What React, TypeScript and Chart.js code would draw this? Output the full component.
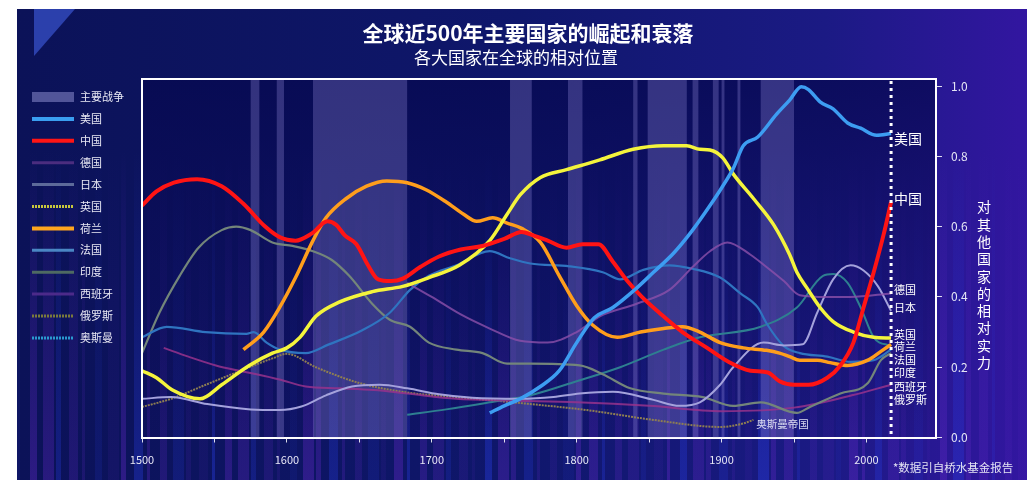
import React, { useEffect, useRef } from "react";
import { Chart, registerables } from "chart.js";

Chart.register(...registerables);

const FONT = '"Noto Sans CJK SC", "Noto Sans", sans-serif';

const TITLE = "全球近500年主要国家的崛起和衰落";
const SUBTITLE = "各大国家在全球的相对位置";
const Y_TITLE = "对其他国家的相对实力";
const NOTE = "*数据引自桥水基金报告";
const OTTOMAN_NOTE = "奥斯曼帝国";
const WAR_LABEL = "主要战争";

const X_TICKS = [1500, 1550, 1600, 1650, 1700, 1750, 1800, 1850, 1900, 1950, 2000];
const Y_TICKS = [0, 0.2, 0.4, 0.6, 0.8, 1.0];
const LATEST_YEAR = 2017;
const OTTOMAN_NOTE_AT: [number, number] = [1942, 0.038];

const WARS: [number, number][] = [
  [1575, 1581], [1593, 1598], [1618, 1683], [1754, 1769], [1794, 1804],
  [1839, 1842], [1849, 1876], [1880, 1884], [1894, 1898], [1900, 1902],
  [1911, 1913], [1927, 1950],
];

const US: [number, number][] = [
  [1740, 0.07], [1750, 0.09], [1761, 0.11], [1775, 0.145], [1788, 0.19], [1800, 0.27],
  [1812, 0.34], [1825, 0.37], [1840, 0.42], [1853, 0.47], [1867, 0.525], [1880, 0.59],
  [1892, 0.66], [1900, 0.71], [1908, 0.765], [1915, 0.83], [1925, 0.855], [1938, 0.92],
  [1947, 0.96], [1955, 0.998], [1960, 0.99], [1968, 0.955], [1977, 0.935], [1987, 0.895],
  [1996, 0.88], [2007, 0.86], [2017, 0.865],
];

const CHINA: [number, number][] = [
  [1500, 0.66], [1510, 0.7], [1522, 0.725], [1538, 0.735], [1555, 0.715], [1570, 0.665],
  [1585, 0.6], [1595, 0.57], [1606, 0.56], [1617, 0.58], [1628, 0.615], [1634, 0.605],
  [1640, 0.575], [1648, 0.55], [1656, 0.49], [1663, 0.45], [1672, 0.445], [1680, 0.452],
  [1692, 0.485], [1705, 0.515], [1720, 0.535], [1735, 0.545], [1750, 0.565], [1762, 0.585],
  [1770, 0.575], [1780, 0.56], [1793, 0.54], [1804, 0.55], [1815, 0.55], [1825, 0.5],
  [1835, 0.445], [1845, 0.4], [1857, 0.355], [1873, 0.3], [1890, 0.255], [1905, 0.215],
  [1920, 0.19], [1932, 0.185], [1940, 0.16], [1950, 0.15], [1960, 0.15], [1973, 0.17],
  [1982, 0.205], [1991, 0.27], [1998, 0.37], [2005, 0.47], [2012, 0.58], [2017, 0.67],
];

const UK: [number, number][] = [
  [1500, 0.19], [1510, 0.17], [1521, 0.135], [1540, 0.11], [1555, 0.15], [1574, 0.205],
  [1590, 0.24], [1600, 0.255], [1609, 0.285], [1620, 0.345], [1636, 0.385], [1659, 0.415],
  [1680, 0.43], [1698, 0.455], [1719, 0.49], [1740, 0.56], [1752, 0.635], [1761, 0.69],
  [1775, 0.74], [1793, 0.762], [1816, 0.79], [1839, 0.82], [1860, 0.83], [1876, 0.83],
  [1885, 0.82], [1892, 0.818], [1901, 0.795], [1908, 0.75], [1922, 0.68], [1936, 0.605],
  [1947, 0.52], [1952, 0.47], [1959, 0.425], [1968, 0.37], [1977, 0.33], [1991, 0.3],
  [2005, 0.285], [2017, 0.283],
];

const NETHERLANDS: [number, number][] = [
  [1570, 0.25], [1584, 0.3], [1595, 0.37], [1606, 0.455], [1618, 0.56], [1627, 0.625],
  [1641, 0.68], [1655, 0.715], [1669, 0.73], [1683, 0.725], [1696, 0.705], [1710, 0.67],
  [1722, 0.635], [1731, 0.615], [1742, 0.625], [1752, 0.61], [1762, 0.595], [1775, 0.555],
  [1788, 0.46], [1800, 0.375], [1811, 0.32], [1828, 0.285], [1844, 0.3], [1860, 0.31],
  [1873, 0.315], [1885, 0.3], [1899, 0.27], [1915, 0.255], [1931, 0.248], [1940, 0.24],
  [1947, 0.23], [1954, 0.22], [1966, 0.22], [1975, 0.213], [1987, 0.205], [2001, 0.22],
  [2010, 0.245], [2017, 0.265],
];

const FRANCE: [number, number][] = [
  [1500, 0.285], [1517, 0.315], [1544, 0.3], [1572, 0.295], [1577, 0.3], [1586, 0.27],
  [1595, 0.25], [1613, 0.24], [1629, 0.265], [1652, 0.305], [1671, 0.355], [1685, 0.42],
  [1698, 0.46], [1717, 0.49], [1740, 0.53], [1754, 0.51], [1768, 0.495], [1795, 0.487],
  [1818, 0.47], [1830, 0.45], [1846, 0.477], [1864, 0.49], [1880, 0.48], [1899, 0.455],
  [1913, 0.41], [1925, 0.37], [1931, 0.325], [1943, 0.26], [1954, 0.24], [1973, 0.23],
  [1989, 0.215], [2005, 0.22], [2017, 0.25],
];

const INDIA: [number, number][] = [
  [1500, 0.24], [1512, 0.355], [1526, 0.46], [1539, 0.54], [1555, 0.59], [1565, 0.6],
  [1575, 0.59], [1590, 0.555], [1604, 0.545], [1618, 0.53], [1631, 0.505], [1643, 0.46],
  [1659, 0.38], [1671, 0.335], [1685, 0.315], [1698, 0.27], [1717, 0.25], [1735, 0.24],
  [1752, 0.21], [1768, 0.21], [1802, 0.205], [1818, 0.18], [1837, 0.14], [1860, 0.125],
  [1887, 0.115], [1908, 0.09], [1927, 0.1], [1952, 0.07], [1961, 0.087], [1982, 0.125],
  [2001, 0.155], [2010, 0.22], [2017, 0.24],
];

const JAPAN: [number, number][] = [
  [1500, 0.11], [1520, 0.115], [1545, 0.095], [1575, 0.08], [1595, 0.078], [1610, 0.088],
  [1627, 0.12], [1645, 0.145], [1664, 0.15], [1683, 0.14], [1705, 0.123], [1728, 0.113],
  [1761, 0.11], [1784, 0.115], [1802, 0.125], [1825, 0.13], [1853, 0.107], [1871, 0.09],
  [1885, 0.1], [1899, 0.15], [1908, 0.2], [1929, 0.27], [1943, 0.262], [1956, 0.265],
  [1966, 0.355], [1977, 0.45], [1989, 0.49], [1998, 0.475], [2008, 0.43], [2017, 0.36],
];

const GERMANY: [number, number][] = [
  [1683, 0.44], [1700, 0.4], [1720, 0.35], [1740, 0.31], [1761, 0.275], [1780, 0.27],
  [1800, 0.3], [1816, 0.345], [1841, 0.38], [1864, 0.42], [1880, 0.485], [1892, 0.53],
  [1904, 0.555], [1920, 0.52], [1931, 0.485], [1943, 0.445], [1954, 0.405], [1973, 0.4],
  [1989, 0.4], [2017, 0.41],
];

const SPAIN: [number, number][] = [
  [1515, 0.255], [1532, 0.23], [1551, 0.205], [1567, 0.19], [1579, 0.18], [1595, 0.165],
  [1613, 0.145], [1636, 0.14], [1660, 0.135], [1683, 0.125], [1717, 0.11], [1752, 0.105],
  [1800, 0.1], [1850, 0.09], [1900, 0.075], [1950, 0.085], [1990, 0.12], [2017, 0.15],
];

const RUSSIA: [number, number][] = [
  [1683, 0.065], [1710, 0.08], [1740, 0.1], [1768, 0.12], [1800, 0.16], [1830, 0.2],
  [1860, 0.25], [1885, 0.285], [1927, 0.315], [1952, 0.37], [1970, 0.46], [1977, 0.465],
  [1987, 0.44], [1996, 0.37], [2005, 0.285], [2017, 0.26],
];

const OTTOMAN: [number, number][] = [
  [1500, 0.087], [1520, 0.11], [1544, 0.15], [1574, 0.2], [1590, 0.225], [1600, 0.238],
  [1620, 0.2], [1650, 0.155], [1683, 0.128], [1717, 0.115], [1761, 0.098], [1807, 0.078],
  [1853, 0.05], [1899, 0.03], [1915, 0.04], [1922, 0.05],
];

const END_LABEL_VALUES = [0.85, 0.68, 0.419, 0.369, 0.292, 0.258, 0.221, 0.184, 0.144, 0.107];
const END_LABEL_NAMES = ["美国", "中国", "德国", "日本", "英国", "荷兰", "法国", "印度", "西班牙", "俄罗斯"];

type Style = {
  name: string;
  data: [number, number][];
  color: string;
  width: number;
  dash: number[];
  legendColor: string;
  legendWidth: number;
  legendDash: number[];
  order: number;
};

const SERIES: Style[] = [
  { name: "美国", data: US, color: "#3d9df2", width: 3.5, dash: [], legendColor: "#3a9ef0", legendWidth: 4, legendDash: [], order: 0 },
  { name: "中国", data: CHINA, color: "#ff1414", width: 4, dash: [], legendColor: "#ff1515", legendWidth: 4, legendDash: [], order: 0 },
  { name: "德国", data: GERMANY, color: "rgba(140,80,170,0.8)", width: 2, dash: [], legendColor: "#4b2d7f", legendWidth: 3, legendDash: [], order: 1 },
  { name: "日本", data: JAPAN, color: "#a4a2dc", width: 2, dash: [], legendColor: "#5d6a9a", legendWidth: 3, legendDash: [], order: 1 },
  { name: "英国", data: UK, color: "#f4f43c", width: 3.5, dash: [], legendColor: "#c8c83c", legendWidth: 3, legendDash: [2, 1], order: 0 },
  { name: "荷兰", data: NETHERLANDS, color: "#ff9e1c", width: 3.5, dash: [], legendColor: "#ffa51e", legendWidth: 4, legendDash: [], order: 0 },
  { name: "法国", data: FRANCE, color: "#2f74c0", width: 2.2, dash: [], legendColor: "#4a86c4", legendWidth: 3, legendDash: [], order: 1 },
  { name: "印度", data: INDIA, color: "#73857a", width: 2.2, dash: [], legendColor: "#4e6a62", legendWidth: 3, legendDash: [], order: 1 },
  { name: "西班牙", data: SPAIN, color: "rgba(150,50,140,0.85)", width: 2, dash: [], legendColor: "#4c2a8a", legendWidth: 3, legendDash: [], order: 1 },
  { name: "俄罗斯", data: RUSSIA, color: "#2e7f90", width: 2, dash: [], legendColor: "#7a7a3c", legendWidth: 3, legendDash: [2, 1], order: 1 },
  { name: "奥斯曼", data: OTTOMAN, color: "#8e7e52", width: 2, dash: [2, 1], legendColor: "#2a9ad0", legendWidth: 3, legendDash: [2, 1], order: 1 },
];

const decorPlugin = {
  id: "decor",
  beforeDraw(chart: any) {
    const { ctx, width, height, chartArea: ca } = chart;
    ctx.save();
    const base = ctx.createLinearGradient(0, 0, width, 0);
    base.addColorStop(0, "#0b1258");
    base.addColorStop(0.5, "#0f176c");
    base.addColorStop(0.8, "#1b1a84");
    base.addColorStop(1, "#3216a0");
    ctx.fillStyle = base;
    ctx.fillRect(0, 0, width, height);

    // soft vertical stripes rising from the bottom
    for (let i = 0; i < 80; i++) {
      const x = i * 13;
      const w = 3 + ((i * 7) % 5) * 2;
      const a = 0.1 + (((i * 13) % 7) / 7) * 0.35;
      const purple = i % 3 !== 0;
      const g = ctx.createLinearGradient(0, height * 0.3, 0, height);
      const c = purple ? "95,40,195" : "40,60,225";
      g.addColorStop(0, `rgba(${c},0)`);
      g.addColorStop(1, `rgba(${c},${a})`);
      ctx.fillStyle = g;
      ctx.fillRect(x, height * 0.3, w, height * 0.7);
    }

    // corner decoration
    ctx.fillStyle = "rgba(55,80,200,0.75)";
    ctx.beginPath();
    ctx.moveTo(17, 0);
    ctx.lineTo(58, 0);
    ctx.lineTo(17, 47);
    ctx.closePath();
    ctx.fill();

    // chart area tint
    const cg = ctx.createLinearGradient(0, ca.top, 0, ca.bottom);
    cg.addColorStop(0, "rgba(6,8,80,0.75)");
    cg.addColorStop(0.6, "rgba(10,10,85,0.4)");
    cg.addColorStop(1, "rgba(20,10,90,0.15)");
    ctx.fillStyle = cg;
    ctx.fillRect(ca.left, ca.top, ca.right - ca.left, ca.bottom - ca.top);
    ctx.restore();
  },
  beforeDatasetsDraw(chart: any) {
    const { ctx, chartArea: ca, scales } = chart;
    const xs = scales.x;
    ctx.save();
    ctx.fillStyle = "rgba(165,155,235,0.28)";
    for (const [a, b] of WARS) {
      const x1 = xs.getPixelForValue(a);
      const x2 = xs.getPixelForValue(b);
      ctx.fillRect(x1, ca.top, x2 - x1, ca.bottom - ca.top);
    }
    ctx.restore();
  },
  afterDatasetsDraw(chart: any) {
    const { ctx, chartArea: ca, scales } = chart;
    const xs = scales.x;
    const ys = scales.y;
    ctx.save();
    ctx.strokeStyle = "#ffffff";
    ctx.lineWidth = 2;
    ctx.beginPath();
    ctx.moveTo(ca.left, ca.bottom);
    ctx.lineTo(ca.left, ca.top);
    ctx.lineTo(ca.right, ca.top);
    ctx.stroke();

    const lx = xs.getPixelForValue(LATEST_YEAR);
    ctx.setLineDash([3, 4]);
    ctx.lineWidth = 3;
    ctx.beginPath();
    ctx.moveTo(lx, ca.top + 2);
    ctx.lineTo(lx, ca.bottom);
    ctx.stroke();
    ctx.setLineDash([]);

    ctx.fillStyle = "#ffffff";
    ctx.textAlign = "left";
    ctx.textBaseline = "middle";
    END_LABEL_NAMES.forEach((name, i) => {
      ctx.font = `${i < 2 ? 14 : 11}px ${FONT}`;
      ctx.fillText(name, lx + 3, ys.getPixelForValue(END_LABEL_VALUES[i]));
    });

    ctx.textAlign = "center";
    ctx.font = `10.5px ${FONT}`;
    ctx.fillStyle = "#dcdcf2";
    ctx.fillText(OTTOMAN_NOTE, xs.getPixelForValue(OTTOMAN_NOTE_AT[0]), ys.getPixelForValue(OTTOMAN_NOTE_AT[1]));
    ctx.restore();
  },
  afterDraw(chart: any) {
    const { ctx } = chart;
    ctx.save();
    ctx.fillStyle = "#ffffff";
    ctx.textAlign = "center";
    ctx.textBaseline = "middle";
    ctx.font = `bold 21px ${FONT}`;
    ctx.fillText(TITLE, 511, 24);
    ctx.font = `17px ${FONT}`;
    ctx.fillText(SUBTITLE, 499, 49);

    ctx.font = `14px ${FONT}`;
    Array.from(Y_TITLE).forEach((ch, i) => {
      ctx.fillText(ch, 967, 198 + i * 17.3);
    });

    ctx.textAlign = "left";
    ctx.font = `11.5px ${FONT}`;
    ctx.fillStyle = "#e4e4f4";
    ctx.fillText(NOTE, 876, 459);

    const lx = 15;
    const ly = 88;
    const step = 21.9;
    ctx.font = `11px ${FONT}`;
    ctx.fillStyle = "rgba(140,140,205,0.55)";
    ctx.fillRect(lx, ly - 5, 42, 10);
    ctx.fillStyle = "#e8e8f4";
    ctx.fillText(WAR_LABEL, lx + 48, ly);
    SERIES.forEach((s, i) => {
      const y = ly + (i + 1) * step;
      ctx.strokeStyle = s.legendColor;
      ctx.lineWidth = s.legendWidth;
      ctx.setLineDash(s.legendDash);
      ctx.beginPath();
      ctx.moveTo(lx, y);
      ctx.lineTo(lx + 42, y);
      ctx.stroke();
      ctx.setLineDash([]);
      ctx.fillStyle = "#e8e8f4";
      ctx.fillText(s.name, lx + 48, y);
    });
    ctx.restore();
  },
};

export default function App() {
  const ref = useRef<HTMLCanvasElement | null>(null);
  useEffect(() => {
    if (!ref.current) return;
    Chart.defaults.font.family = FONT;
    const chart = new Chart(ref.current, {
      type: "line",
      data: {
        datasets: SERIES.map((s) => ({
          label: s.name,
          data: s.data.map(([x, y]) => ({ x, y })),
          borderColor: s.color,
          borderWidth: s.width,
          borderDash: s.dash,
          pointRadius: 0,
          fill: false,
          tension: 0.4,
          cubicInterpolationMode: "monotone" as const,
          order: s.order,
        })),
      },
      options: {
        animation: false,
        responsive: true,
        maintainAspectRatio: false,
        layout: { padding: { left: 125, top: 70, right: 0, bottom: 0 } },
        plugins: {
          legend: { display: false },
          tooltip: { enabled: false },
          title: { display: false },
        },
        scales: {
          x: {
            type: "linear",
            min: 1500,
            max: 2048,
            afterBuildTicks: (axis: any) => {
              axis.ticks = X_TICKS.map((v) => ({ value: v }));
            },
            afterFit: (axis: any) => {
              axis.height = 42.5;
            },
            ticks: {
              color: "#e6e6f5",
              font: { size: 11 },
              padding: 11,
              maxRotation: 0,
              autoSkip: false,
              callback: (v: any) => (Number(v) % 100 === 0 ? String(v) : ""),
            },
            grid: { drawOnChartArea: false, drawTicks: true, tickLength: 5, color: "rgba(255,255,255,0.85)" },
            border: { color: "#ffffff", width: 2 },
          },
          y: {
            type: "linear",
            position: "right",
            min: 0,
            max: 1.02,
            afterBuildTicks: (axis: any) => {
              axis.ticks = Y_TICKS.map((v) => ({ value: v }));
            },
            afterFit: (axis: any) => {
              axis.width = 91;
            },
            ticks: {
              color: "#e6e6f5",
              font: { size: 12 },
              padding: 9,
              callback: (v: any) => Number(v).toFixed(1),
            },
            grid: { drawOnChartArea: false, drawTicks: true, tickLength: 6, color: "rgba(255,255,255,0.85)" },
            border: { color: "#ffffff", width: 2 },
          },
        },
      },
      plugins: [decorPlugin],
    });
    return () => chart.destroy();
  }, []);

  return (
    <div style={{ position: "absolute", left: 17, top: 9, width: 1010, height: 471 }}>
      <canvas ref={ref} />
    </div>
  );
}
